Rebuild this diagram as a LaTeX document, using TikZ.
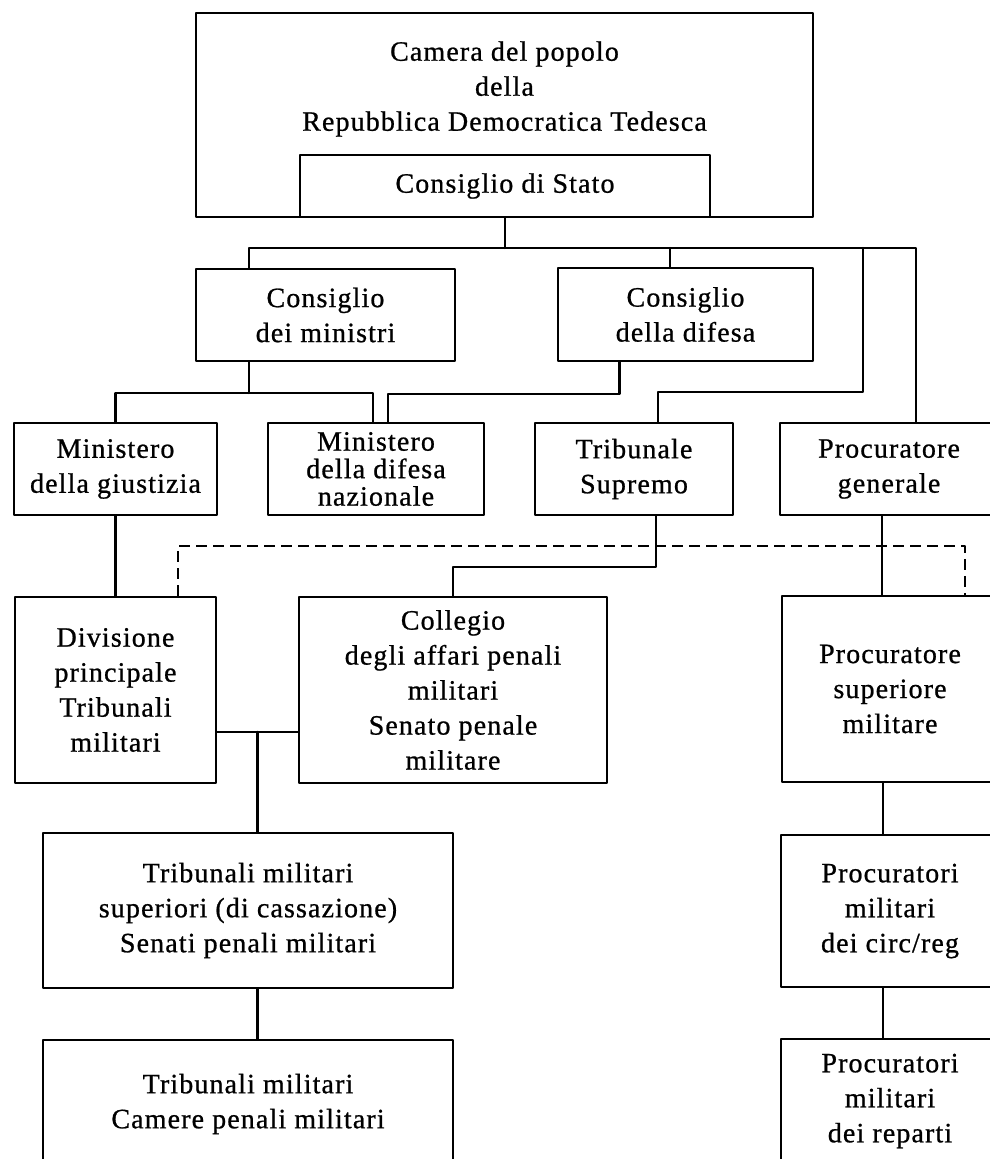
\documentclass[tikz,border=0pt]{standalone}
\usepackage{fontspec}
\setmainfont{Liberation Serif}[LetterSpace=4, FakeBold=0.8]
\usetikzlibrary{calc}
\begin{document}
\begin{tikzpicture}[x=1pt, y=-1pt, line join=round, line cap=round, line width=2.5pt]
	\tikzset{box/.style={draw, inner sep=0pt, align=center, font=\fontsize{28pt}{35pt}\selectfont},
		tight/.style={font=\fontsize{28pt}{27.5pt}\selectfont},
		link/.style={dash pattern=on 11pt off 6pt, line cap=butt}}
	\def\W{990}\def\H{1159}
	\useasboundingbox (0,0) rectangle (\W,\H);
	\clip (0,0) rectangle (\W,\H);
	% top
	\node[box, minimum width=617pt, minimum height=204pt] (camera) at (504.5,115) {};
	\node[align=center, font=\fontsize{28pt}{35pt}\selectfont] (cameratext) at (504.5,89) {Camera del popolo\\della\\Repubblica Democratica Tedesca};
	\node[box, minimum width=410pt, minimum height=62pt] (stato) at (505,186) {Consiglio di Stato};
	% second and third row
	\node[box, minimum width=259pt, minimum height=92pt] (ministri) at (325.5,315) {Consiglio\\dei ministri};
	\node[box, minimum width=255pt, minimum height=93pt] (difesa) at (685.5,314.5) {Consiglio\\della difesa};
	\node[box, minimum width=203pt, minimum height=92pt] (giustizia) at (115.5,469) {Ministero\\della giustizia};
	\node[box, tight, minimum width=216pt, minimum height=92pt] (mindifesa) at (376,469) {Ministero\\della difesa\\nazionale};
	\node[box, minimum width=198pt, minimum height=92pt] (supremo) at (634,469) {Tribunale\\Supremo};
	\node[box, minimum width=218pt, minimum height=92pt] (procgen) at (889,469) {Procuratore\\generale};
	% military courts
	\node[box, minimum width=201pt, minimum height=186pt] (divisione) at (115.5,690) {Divisione\\principale\\Tribunali\\militari};
	\node[box, minimum width=308pt, minimum height=186pt] (collegio) at (453,690) {Collegio\\degli affari penali\\militari\\Senato penale\\militare};
	\node[box, minimum width=216pt, minimum height=186pt] (procsup) at (890,689) {Procuratore\\superiore\\militare};
	\node[box, minimum width=410pt, minimum height=155pt] (tribsup) at (248,910.5) {Tribunali militari\\superiori (di cassazione)\\Senati penali militari};
	\node[box, minimum width=410pt, minimum height=128pt] (tribmil) at (248,1104) {Tribunali militari\\Camere penali militari};
	\node[box, minimum width=218pt, minimum height=152pt] (procirc) at (890,911) {Procuratori\\militari\\dei circ/reg};
	\node[box, minimum width=218pt, minimum height=124pt] (procrep) at (890,1101) {Procuratori\\militari\\dei reparti};
	% connectors
	\coordinate (bus) at (505,248);
	\coordinate (busL) at (249,248);
	\coordinate (busD) at (670,248);
	\coordinate (busT) at (863,248);
	\coordinate (busR) at (916,248);
	\draw (stato.south) -- (bus);
	\draw (busL |- ministri.north) -- (busL) -- (busR) -- (busR |- procgen.north);
	\draw (busD) -- (busD |- difesa.north);
	\draw (busT) |- ($(supremo.north)+(24,-30)$) -- ($(supremo.north)+(24,0)$);
	\coordinate (minB) at (249,393);
	\draw (minB |- ministri.south) -- (minB);
	\draw (giustizia.north) |- (minB) -| ($(mindifesa.north)+(-3,0)$);
	\draw ($(difesa.south)+(-66,0)$) |- ($(mindifesa.north)+(12,-28)$) -- ($(mindifesa.north)+(12,0)$);
	\draw (giustizia.south) -- (divisione.north);
	\draw ($(supremo.south)+(22,0)$) |- ($(collegio.north)+(0,-29)$) -- (collegio.north);
	\draw ($(procgen.south)+(-7,0)$) -- ($(procsup.north)+(-8,0)$);
	\draw[link] ($(divisione.north)+(62.5,0)$) |- ($(procsup.north)+(75,-49)$) -- ($(procsup.north)+(75,0)$);
	\coordinate (join) at ($(divisione.east)+(40,42)$);
	\draw ($(divisione.east)+(0,42)$) -- ($(collegio.west)+(0,42)$);
	\draw (join) -- (join |- tribsup.north);
	\draw (join |- tribsup.south) -- (join |- tribmil.north);
	\draw ($(procsup.south)+(-7,0)$) -- ($(procirc.north)+(-7,0)$);
	\draw ($(procirc.south)+(-7,0)$) -- ($(procrep.north)+(-7,0)$);
\end{tikzpicture}
\end{document}
